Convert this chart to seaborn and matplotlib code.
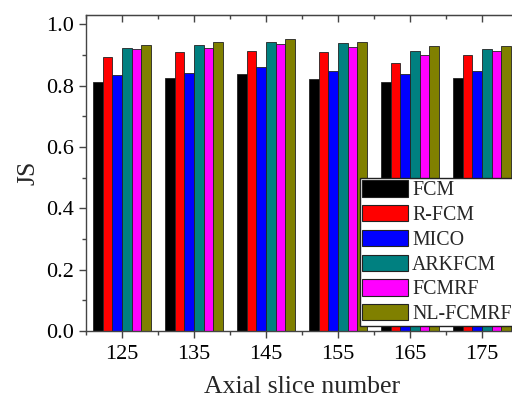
import matplotlib
matplotlib.use("Agg")
import matplotlib.pyplot as plt
import seaborn as sns
import pandas as pd
import numpy as np
from matplotlib.ticker import MultipleLocator, FixedLocator

# Axial slices and methods
slices = ["125", "135", "145", "155", "165", "175"]
methods = ["FCM", "R-FCM", "MICO", "ARKFCM", "FCMRF", "NL-FCMRF"]
colors = ["#000000", "#FF0000", "#0000FF", "#008080", "#FF00FF", "#808000"]

# Jaccard similarity per method, one value per slice
fcm      = [0.812, 0.826, 0.839, 0.822, 0.811, 0.825]
r_fcm    = [0.893, 0.910, 0.913, 0.908, 0.872, 0.901]
mico     = [0.834, 0.841, 0.859, 0.848, 0.839, 0.847]
arkfcm   = [0.922, 0.933, 0.941, 0.938, 0.913, 0.920]
fcmrf    = [0.918, 0.923, 0.935, 0.925, 0.898, 0.912]
nl_fcmrf = [0.932, 0.942, 0.951, 0.942, 0.930, 0.930]

series = [fcm, r_fcm, mico, arkfcm, fcmrf, nl_fcmrf]
rows = []
for m, vals in zip(methods, series):
    for s, v in zip(slices, vals):
        rows.append({"slice": s, "method": m, "JS": v})
df = pd.DataFrame(rows)

sns.set_style("ticks")
plt.rcParams["font.family"] = ["Liberation Serif", "DejaVu Serif"]

fig = plt.figure(figsize=(5.12, 4.03), dpi=100)
ax = fig.add_axes([86 / 512, 72 / 403, 432 / 512, 316 / 403])

sns.barplot(data=df, x="slice", y="JS", hue="method", order=slices,
            hue_order=methods, palette=colors, width=0.8, ax=ax,
            edgecolor="#222222", linewidth=0.6, saturation=1, errorbar=None)

ax.set_xlim(-0.5, 5.5)
ax.set_ylim(0, 1.03)
yt = np.round(np.arange(0, 1.01, 0.2), 1)
ax.set_yticks(yt)
ax.set_yticklabels([f"{v:.1f}" for v in yt])
ax.yaxis.set_minor_locator(MultipleLocator(0.1))
ax.xaxis.set_minor_locator(FixedLocator(np.arange(-0.5, 5.6, 1.0)))

spine_c = "#444444"
for sp in ax.spines.values():
    sp.set_visible(True)
    sp.set_color(spine_c)
    sp.set_linewidth(1.0)

ax.tick_params(axis="both", which="major", direction="out", length=5,
               width=1, color=spine_c, labelsize=16, labelcolor="black")
ax.tick_params(axis="both", which="minor", direction="out", length=3,
               width=1, color=spine_c)
ax.tick_params(axis="x", which="major", pad=5)

# mirrored ticks along the top edge, pointing into the plot
top = ax.secondary_xaxis("top")
top.set_xticks(range(len(slices)))
top.xaxis.set_minor_locator(FixedLocator(np.arange(-0.5, 5.6, 1.0)))
top.tick_params(which="major", direction="in", length=5, width=1,
                color=spine_c, labeltop=False)
top.tick_params(which="minor", direction="in", length=3, width=1,
                color=spine_c)
top.spines["top"].set_color(spine_c)

ax.set_xlabel("Axial slice number", fontsize=18.5, labelpad=9)
ax.set_ylabel("JS", fontsize=18.5, labelpad=5)

leg = ax.legend(loc="upper left", bbox_to_anchor=(360 / 512, (403 - 178) / 403),
                bbox_transform=fig.transFigure, frameon=True, fancybox=False,
                framealpha=1, fontsize=14.3, handlelength=2.3, handleheight=0.88,
                handletextpad=0.2, labelspacing=0.24, borderpad=0.12,
                borderaxespad=0, title=None)
leg.get_frame().set_edgecolor("#222222")
leg.get_frame().set_linewidth(1.0)
for p in leg.get_patches():
    p.set_edgecolor("#222222")
    p.set_linewidth(0.8)

fig.savefig("out.png", dpi=100)
